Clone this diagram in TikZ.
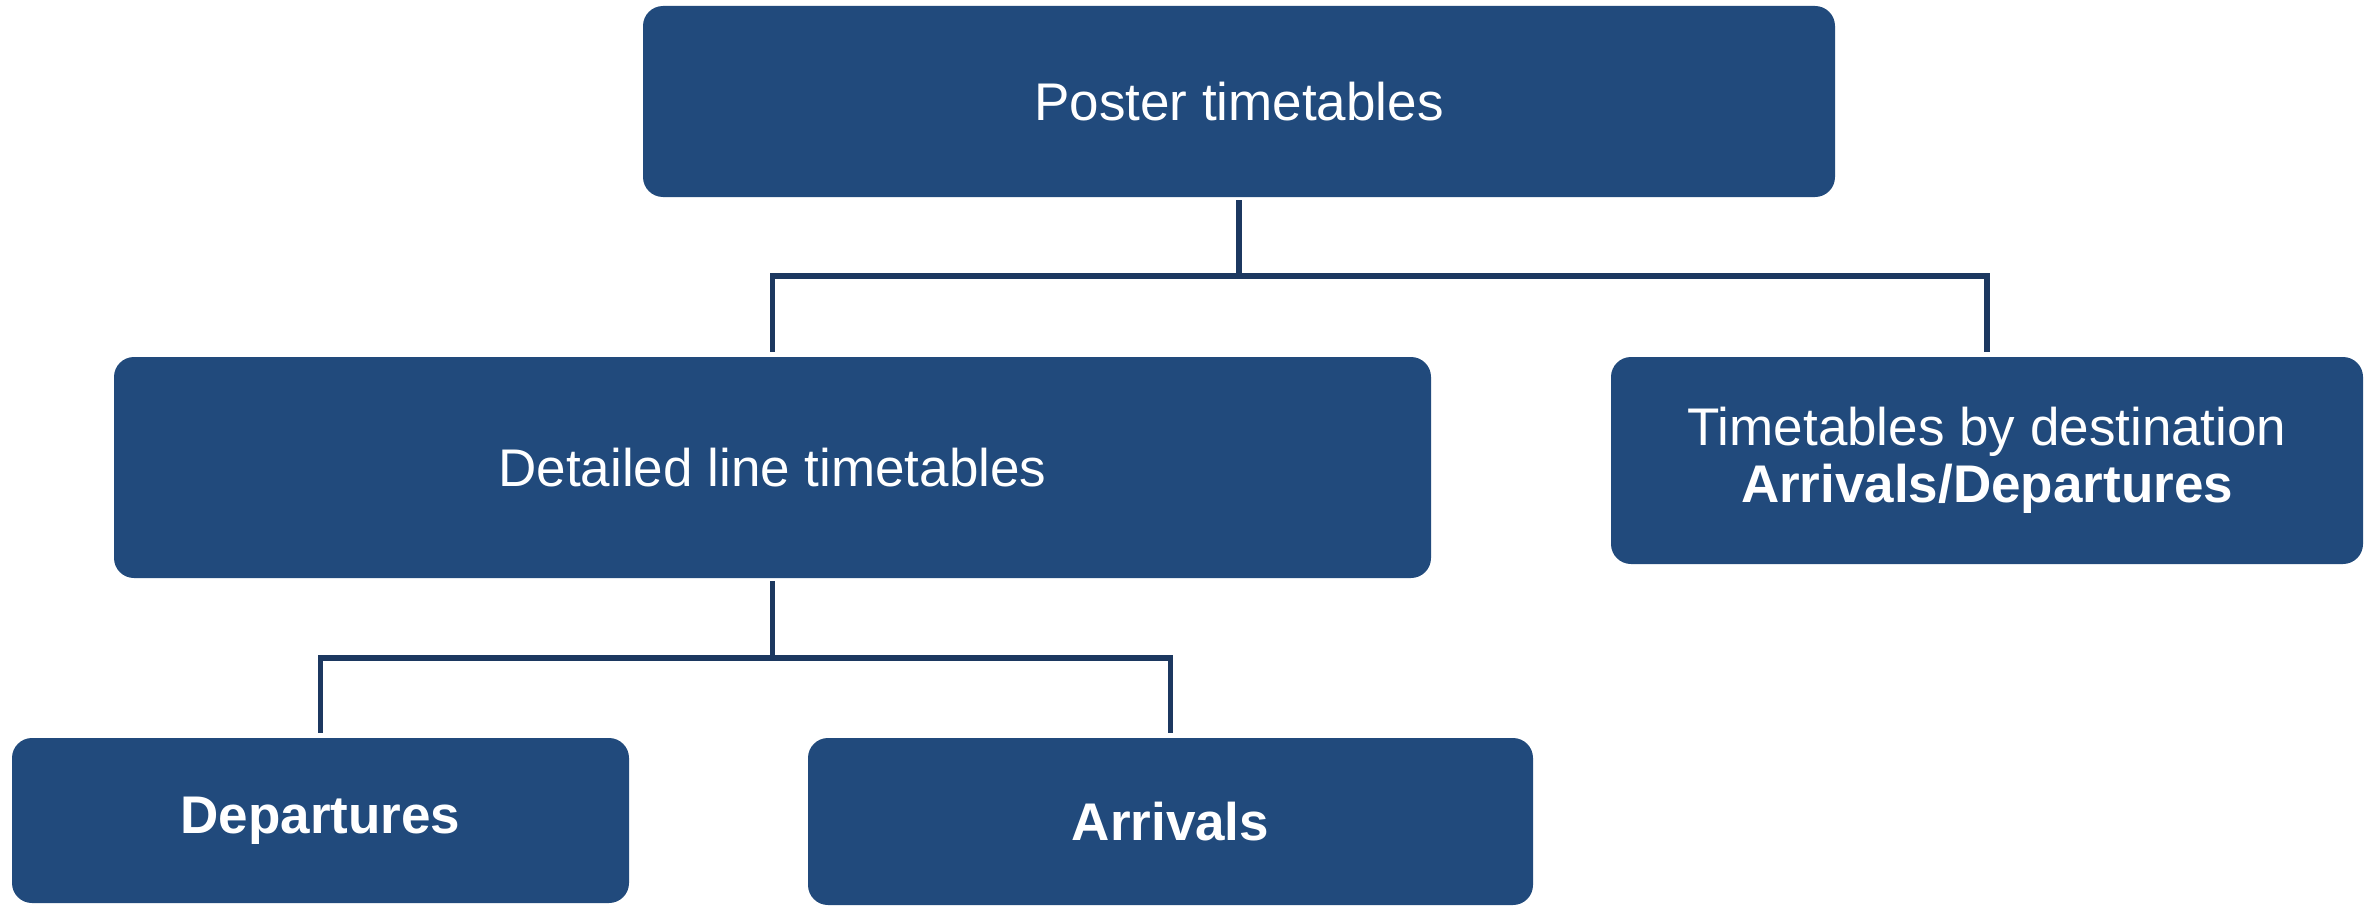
\documentclass[tikz,border=0pt]{standalone}
\usepackage{fontspec}
\setmainfont{Liberation Sans}
\definecolor{boxblue}{RGB}{33,74,124}
\definecolor{lineblue}{RGB}{28,56,96}
\tikzset{
  box/.style={rounded corners=20pt, fill=boxblue, text=white, inner sep=0pt,
    align=center, font=\fontsize{53}{57}\selectfont},
  conn/.style={draw=lineblue, line width=5.5pt, shorten <=3pt, shorten >=5pt}
}
\begin{document}
\begin{tikzpicture}[x=1pt,y=-1pt]
\useasboundingbox[fill=white] (0,0) rectangle (2374,907);
\node[box, minimum width=1192pt, minimum height=191pt] (top) at (1239,101.5) {Poster timetables};
\node[box, minimum width=1317pt, minimum height=221pt] (det) at (772.5,467.5) {Detailed line timetables};
\node[box, minimum width=752pt, minimum height=207pt] (dest) at (1987,460.5) {Timetables by destination\\\textbf{Arrivals/Departures}};
\node[box, minimum width=617pt, minimum height=165pt] (dep) at (320.5,820.5) {\textbf{Departures}};
\node[box, minimum width=725pt, minimum height=167pt] (arr) at (1170.5,821.5) {\textbf{Arrivals}};
\coordinate (j1) at (1239,276);
\coordinate (j2) at (772.5,658);
\draw[conn, shorten >=0pt] (top.south) -- (j1);
\draw[conn, shorten <=0pt] (j1) -| (det.north);
\draw[conn, shorten <=0pt] (j1) -| (dest.north);
\draw[conn, shorten >=0pt] (det.south) -- (j2);
\draw[conn, shorten <=0pt] (j2) -| (dep.north);
\draw[conn, shorten <=0pt] (j2) -| (arr.north);
\end{tikzpicture}
\end{document}
